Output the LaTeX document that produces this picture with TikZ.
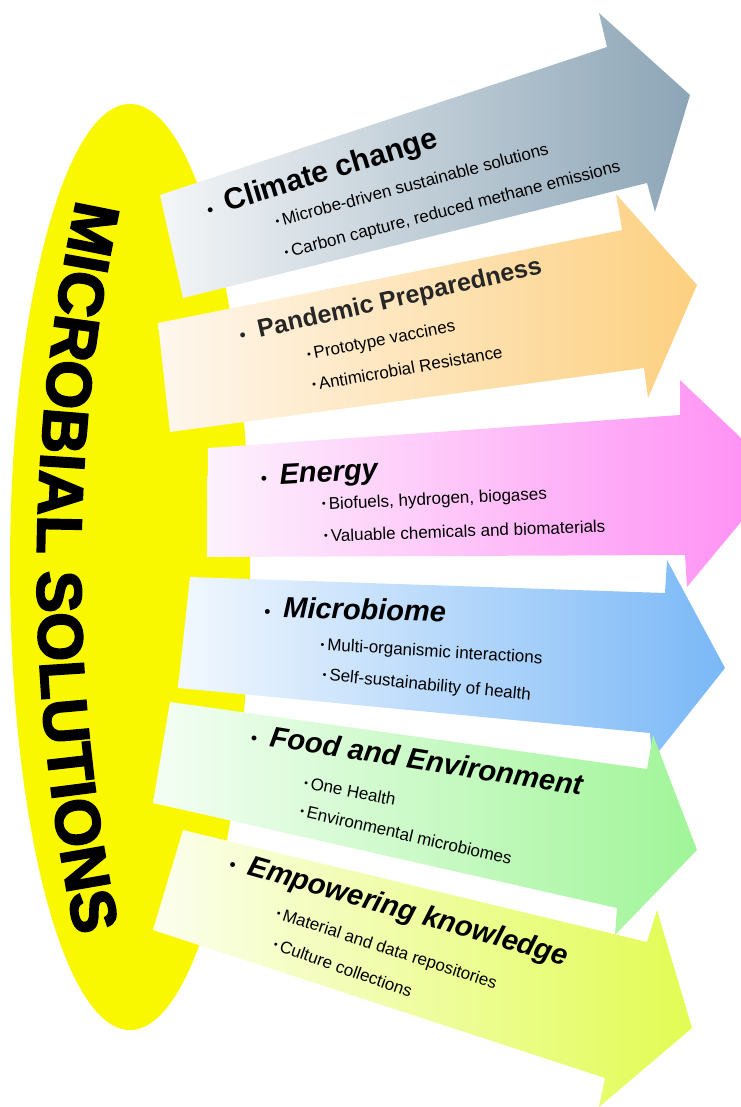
\documentclass[tikz,border=0pt]{standalone}
\usepackage{fontspec}
\setmainfont{Liberation Sans}
\newfontfamily\heavyfont{Liberation Sans Bold}[FakeBold=3]
\usetikzlibrary{decorations.text}

\definecolor{ovalyellow}{RGB}{250,248,0}
\definecolor{climL}{RGB}{244,246,248}
\definecolor{climR}{RGB}{140,165,182}
\definecolor{pandL}{RGB}{254,247,238}
\definecolor{pandR}{RGB}{253,208,128}
\definecolor{enerL}{RGB}{253,242,253}
\definecolor{enerR}{RGB}{255,140,244}
\definecolor{micrL}{RGB}{242,248,254}
\definecolor{micrR}{RGB}{122,184,247}
\definecolor{foodL}{RGB}{244,254,244}
\definecolor{foodR}{RGB}{160,245,152}
\definecolor{empwL}{RGB}{252,254,238}
\definecolor{empwR}{RGB}{226,252,82}

\newcommand{\bigdot}{{\fontsize{17}{17}\selectfont\textbullet}\hspace{13pt}}
\newcommand{\smalldot}{\raisebox{2pt}{\fontsize{11}{11}\selectfont\textbullet}\hspace{3pt}}

\begin{document}
\begin{tikzpicture}[x=1pt, y=-1pt,
	ttl/.style={anchor=base west, inner sep=0pt, font=\fontsize{29}{31}\selectfont\bfseries},
	itm/.style={anchor=base west, inner sep=0pt, font=\fontsize{17}{19}\selectfont}]
	\useasboundingbox (0,0) rectangle (740,1107);
	% yellow oval with the curved heading
	\fill[ovalyellow] (130,567) ellipse [x radius=120, y radius=463];
	\path[decorate, decoration={text along path, text align=center,
		text={|\fontsize{63}{63}\heavyfont|MICROBIAL SOLUTIONS}}]
		(78,195) .. controls (24,443) and (24,691) .. (77,940);
	% arrows, top to bottom
	\shade[left color=climL, right color=climR] (160,195) -- (607,47) -- (599,13) -- (690,95) -- (655,212) -- (647,183) -- (183,298) -- cycle;
	\shade[left color=pandL, right color=pandR] (158,323) -- (622,230) -- (616,194) -- (697,285) -- (648,398) -- (644,368) -- (170,432) -- cycle;
	\shade[left color=enerL, right color=enerR] (208,448) -- (680,415) -- (680,380) -- (780,475) -- (687,587) -- (685,555) -- (207,557) -- cycle;
	\shade[left color=micrL, right color=micrR] (190,577) -- (665,593) -- (667,560) -- (725,668) -- (652,760) -- (650,733) -- (178,688) -- cycle;
	\shade[left color=foodL, right color=foodR] (170,702) -- (647,769) -- (653,735) -- (697,850) -- (615,935) -- (617,908) -- (153,803) -- cycle;
	\shade[left color=empwL, right color=empwR] (183,830) -- (647,942) -- (657,910) -- (692,1028) -- (599,1107) -- (605,1078) -- (153,930) -- cycle;
	% Climate change
	\node[ttl, rotate=17, font=\fontsize{30}{32}\selectfont\bfseries] (clim) at (209,217) {\bigdot Climate change};
	\node[itm, rotate=15] (climA) at (277,227) {\smalldot Microbe-driven sustainable solutions};
	\node[itm, rotate=14.5] (climB) at (286,258) {\smalldot Carbon capture, reduced methane emissions};
	% Pandemic preparedness
	\node[ttl, rotate=12.8, font=\fontsize{25}{27}\selectfont\bfseries, text=black!85] (pand) at (241,342) {\bigdot Pandemic Preparedness};
	\node[itm, rotate=11] (pandA) at (308,360) {\smalldot Prototype vaccines};
	\node[itm, rotate=10] (pandB) at (313,391) {\smalldot Antimicrobial Resistance};
	% Energy
	\node[ttl, rotate=3, font=\fontsize{29}{31}\selectfont\bfseries\itshape] (ener) at (261,485) {\bigdot Energy};
	\node[itm, rotate=2.7] (enerA) at (322,510) {\smalldot Biofuels, hydrogen, biogases};
	\node[itm, rotate=2] (enerB) at (324,542) {\smalldot Valuable chemicals and biomaterials};
	% Microbiome
	\node[ttl, rotate=-1.5, font=\fontsize{29}{31}\selectfont\bfseries\itshape] (micr) at (264,617) {\bigdot Microbiome};
	\node[itm, rotate=-3.5] (micrA) at (320,650) {\smalldot Multi-organismic interactions};
	\node[itm, rotate=-5.5] (micrB) at (322,680) {\smalldot Self-sustainability of health};
	% Food and environment
	\node[ttl, rotate=-9, font=\fontsize{29}{31}\selectfont\bfseries\itshape] (food) at (250,743) {\bigdot Food and Environment};
	\node[itm, rotate=-11] (foodA) at (303,788) {\smalldot One Health};
	\node[itm, rotate=-13] (foodB) at (299,816) {\smalldot Environmental microbiomes};
	% Empowering knowledge
	\node[ttl, rotate=-16, font=\fontsize{29}{31}\selectfont\bfseries\itshape] (empw) at (228,869) {\bigdot Empowering knowledge};
	\node[itm, rotate=-18] (empwA) at (275,918) {\smalldot Material and data repositories};
	\node[itm, rotate=-19.5] (empwB) at (272,949) {\smalldot Culture collections};
\end{tikzpicture}
\end{document}
